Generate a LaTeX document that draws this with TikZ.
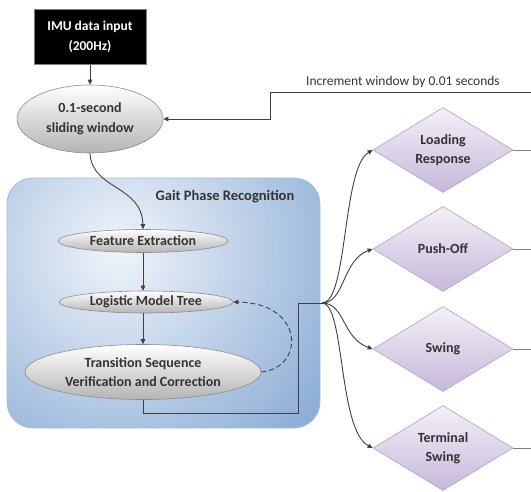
\documentclass[tikz,border=0pt]{standalone}
\usepackage{fontspec}
\setmainfont{Carlito}
\usetikzlibrary{shapes.geometric,arrows.meta,shadows}
\definecolor{txt}{HTML}{333333}
\definecolor{lin}{HTML}{404040}
\definecolor{ellbot}{HTML}{B4B4B4}
\definecolor{ellbd}{HTML}{8C8C8C}
\definecolor{diatop}{HTML}{F4F0F8}
\definecolor{diabot}{HTML}{C6B8DA}
\definecolor{diabd}{HTML}{B0A2C6}
\definecolor{boxlight}{HTML}{F0F4FA}
\definecolor{boxdark}{HTML}{8DAED6}
\definecolor{boxbd}{HTML}{A4BEDC}
\tikzset{
  ell/.style={ellipse, inner sep=0pt, top color=white, bottom color=ellbot, draw=ellbd, line width=0.6pt,
    text=txt, font=\fontsize{14}{16}\selectfont\bfseries, align=center},
  dia/.style={diamond, inner sep=0pt, minimum width=140pt, minimum height=85pt, aspect=1.65,
    top color=diatop, bottom color=diabot, draw=diabd, line width=0.6pt,
    text=txt, font=\fontsize{14}{19}\selectfont\bfseries, align=center},
  conn/.style={draw=lin, line width=0.9pt},
  arr/.style={conn, -{Triangle[length=5pt,width=4.5pt]}},
}
\begin{document}
\begin{tikzpicture}[x=1pt,y=-1pt]
\useasboundingbox (0,0) rectangle (531,492);
% blue background box
\begin{scope}
\clip[rounded corners=26pt] (7,178) rectangle (320,428);
\fill[boxdark] (7,178) rectangle (320,428);
\shade[inner color=boxlight, outer color=boxdark] (120,250) circle (250pt);
\end{scope}
\draw[rounded corners=26pt, draw=boxbd, line width=0.8pt] (7,178) rectangle (320,428);
\node[text=txt, font=\fontsize{14.5}{16}\selectfont\bfseries] (gpr) at (225,197) {Gait Phase Recognition};

% IMU box
\node[draw=gray, line width=0.6pt, fill=black, text=white, minimum width=112pt, minimum height=55pt,
  inner sep=0pt, align=center, font=\fontsize{13.5}{20}\selectfont\bfseries] (imu) at (90,37) {IMU data input\\(200Hz)};

% ellipses
\node[ell, minimum width=146pt, minimum height=68pt, font=\fontsize{14}{20}\selectfont\bfseries] (win) at (90,119) {0.1-second\\sliding window};
\node[ell, minimum width=170pt, minimum height=23pt] (fe) at (143,241) {Feature Extraction};
\node[ell, minimum width=174pt, minimum height=22pt] (lmt) at (146,302) {Logistic Model Tree};
\node[ell, minimum width=236pt, minimum height=55pt, font=\fontsize{14}{19}\selectfont\bfseries] (tsv) at (143,372) {Transition Sequence\\Verification and Correction};

% diamonds
\node[dia] (d1) at (443,150) {Loading\\Response};
\node[dia] (d2) at (443,249) {Push-Off};
\node[dia] (d3) at (443,349) {Swing};
\node[dia] (d4) at (443,448) {Terminal\\Swing};

% coordinates
\coordinate (inR) at (531,92);
\coordinate (inC) at (270,92);
\coordinate (inD) at (270,119);
\coordinate (j1) at (143,413);
\coordinate (j2) at (298,413);
\coordinate (j3) at (298,303);
\coordinate (jn) at (322,303);
\coordinate (o1) at (531,150);
\coordinate (o2) at (531,249);
\coordinate (o3) at (531,349);
\coordinate (o4) at (531,448);

% connectors
\draw[arr] (imu.south) -- (win.north);
\draw[arr] (inR) -- (inC) -- (inD) -- (win.east);
\node[text=txt, font=\fontsize{13.5}{15}\selectfont, anchor=south] (inclbl) at (403,91) {Increment window by 0.01 seconds};
\draw[arr] (win.south) .. controls (92,190) and (142,185) .. (fe.north);
\draw[arr] (fe.south) -- (fe.south |- lmt.north);
\draw[arr] (lmt.south -| fe.south) -- (fe.south |- tsv.north);
\draw[arr, dashed, dash pattern=on 5pt off 3pt] (tsv.east) .. controls (305,368) and (305,303) .. (lmt.east);
\draw[conn] (tsv.south) -- (j1) -- (j2) -- (j3) -- (jn);
\draw[arr] (jn) .. controls (348,303) and (342,168) .. (d1.west);
\draw[arr] (jn) .. controls (345,303) and (342,260) .. (d2.west);
\draw[arr] (jn) .. controls (345,303) and (342,338) .. (d3.west);
\draw[arr] (jn) .. controls (345,303) and (338,430) .. (d4.west);
\draw[conn, draw=gray] (d1.east) -- (o1);
\draw[conn, draw=gray] (d2.east) -- (o2);
\draw[conn, draw=gray] (d3.east) -- (o3);
\draw[conn, draw=gray] (d4.east) -- (o4);
\end{tikzpicture}
\end{document}
